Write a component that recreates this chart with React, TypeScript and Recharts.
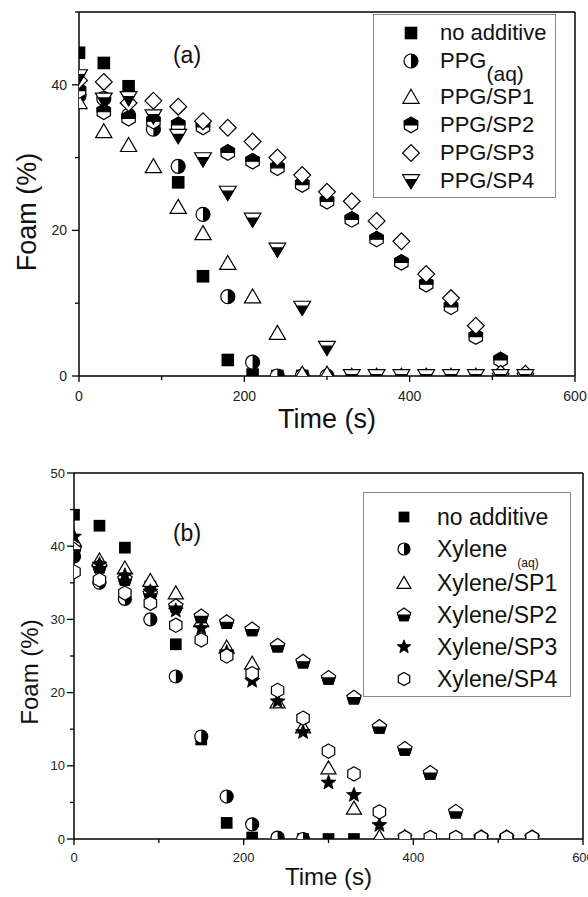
import React from 'react';
import { ScatterChart, Scatter, XAxis, YAxis, Legend, ReferenceLine } from 'recharts';

// sampling times (s), shared by every series
const times = [0, 30, 60, 90, 120, 150, 180, 210, 240, 270, 300, 330, 360, 390, 420, 450, 480, 510, 540];

// panel (a) – PPG
const noAdditiveA = [44.4, 43.0, 39.8, 34.6, 26.6, 13.7, 2.2, 0.2, 0, 0];
const ppgAq = [38.5, 38.1, 35.8, 33.9, 28.8, 22.2, 10.9, 1.9, 0, 0, 0];
const ppgSp1 = [37.6, 33.6, 31.7, 28.8, 23.2, 19.6, 15.5, 10.9, 5.9, 0.3, 0.3, 0, 0, 0, 0, 0, 0, 0, 0];
const ppgSp2 = [39.2, 36.3, 35.4, 35.0, 34.5, 34.2, 30.7, 29.5, 28.6, 26.3, 24.0, 21.5, 18.8, 15.6, 12.6, 9.5, 5.4, 2.2, 0];
const ppgSp3 = [40.6, 40.4, 37.5, 37.8, 37.0, 35.0, 34.1, 32.2, 30.0, 27.6, 25.3, 24.0, 21.3, 18.5, 14.0, 10.7, 6.9, 0.3, 0.3];
const ppgSp4 = [41.2, 38.0, 38.2, 35.7, 33.0, 29.8, 25.2, 21.5, 17.4, 9.4, 3.9, 0, 0, 0, 0, 0, 0, 0, 0];

// panel (b) – Xylene
const noAdditiveB = [44.3, 42.8, 39.8, 34.5, 26.6, 13.6, 2.2, 0.2, 0, 0, 0, 0];
const xyleneAq = [38.6, 35.0, 32.8, 30.0, 22.2, 14.0, 5.8, 2.0, 0.2, 0];
const xyleneSp1 = [40.8, 38.1, 37.0, 35.3, 33.6, 29.8, 26.2, 24.0, 18.7, 15.3, 9.7, 4.2, 0.3, 0.3];
const xyleneSp2 = [39.5, 37.2, 35.5, 33.5, 31.8, 30.4, 29.6, 28.6, 26.4, 24.2, 22.0, 19.3, 15.3, 12.3, 9.0, 3.7, 0.2, 0.2, 0.2];
const xyleneSp3 = [41.3, 37.5, 36.0, 33.8, 31.2, 28.8, 25.5, 21.6, 18.8, 14.6, 7.7, 6.0, 1.9, 0.2];
const xyleneSp4 = [36.5, 35.4, 33.6, 32.2, 29.2, 27.2, 25.0, 22.6, 20.3, 16.5, 12.0, 8.9, 3.7, 0.2, 0.2, 0.2, 0.2, 0.2, 0.2];

const xTicks = [0, 100, 200, 300, 400, 500, 600];
const yTicksA = [0, 10, 20, 30, 40, 50];
const yTicksB = [0, 5, 10, 15, 20, 25, 30, 35, 40, 45, 50];

const FONT = '"Liberation Sans", Arial, sans-serif';

const toPoints = (vals: number[]) => vals.map((v, i) => ({ t: times[i], foam: v }));

const Marker = ({ kind, cx, cy, s }: { kind: string; cx: number; cy: number; s: number }) => {
  const sw = 1.2;
  const k = '#000';
  const r = s / 2;
  if (cx == null || cy == null) return null;
  switch (kind) {
    case 'square': {
      const a = s * 0.9;
      return <rect x={cx - a / 2} y={cy - a / 2} width={a} height={a} fill={k} />;
    }
    case 'halfCircle':
      return (
        <g>
          <circle cx={cx} cy={cy} r={r} fill="#fff" stroke={k} strokeWidth={sw} />
          <path d={`M${cx},${cy - r} A${r},${r} 0 0 1 ${cx},${cy + r} Z`} fill={k} />
        </g>
      );
    case 'triUp': {
      const w = s * 0.58;
      const pts = `${cx},${cy - s * 0.55} ${cx + w},${cy + s * 0.45} ${cx - w},${cy + s * 0.45}`;
      return <polygon points={pts} fill="#fff" stroke={k} strokeWidth={sw} />;
    }
    case 'triDown': {
      const w = s * 0.6;
      const top = cy - s * 0.45;
      const bot = cy + s * 0.55;
      const cut = top + s * 0.35;
      const hw = w * (1 - 0.35);
      return (
        <g>
          <polygon points={`${cx - w},${top} ${cx + w},${top} ${cx},${bot}`} fill="#fff" stroke={k} strokeWidth={sw} />
          <polygon points={`${cx - hw},${cut} ${cx + hw},${cut} ${cx},${bot}`} fill={k} stroke={k} strokeWidth={sw} />
        </g>
      );
    }
    case 'diamond': {
      const d = s * 0.6;
      return (
        <polygon
          points={`${cx},${cy - d} ${cx + d},${cy} ${cx},${cy + d} ${cx - d},${cy}`}
          fill="#fff"
          stroke={k}
          strokeWidth={sw}
        />
      );
    }
    case 'hexHalf':
    case 'hexOpen': {
      const R = s * 0.55;
      const w = R * 0.866;
      const hex = `${cx},${cy - R} ${cx + w},${cy - R / 2} ${cx + w},${cy + R / 2} ${cx},${cy + R} ${cx - w},${cy + R / 2} ${cx - w},${cy - R / 2}`;
      return (
        <g>
          <polygon points={hex} fill="#fff" stroke={k} strokeWidth={sw} />
          {kind === 'hexHalf' && (
            <polygon
              points={`${cx - w},${cy} ${cx - w},${cy - R / 2} ${cx},${cy - R} ${cx + w},${cy - R / 2} ${cx + w},${cy}`}
              fill={k}
              stroke={k}
              strokeWidth={sw}
            />
          )}
        </g>
      );
    }
    case 'pentagon': {
      const R = s * 0.58;
      const p = [-90, -18, 54, 126, 198].map((a) => {
        const rad = (a * Math.PI) / 180;
        return `${cx + R * Math.cos(rad)},${cy + R * Math.sin(rad)}`;
      });
      const c = 0.851 * R;
      const lower = `${cx - c},${cy} ${cx + c},${cy} ${cx + 0.588 * R},${cy + 0.809 * R} ${cx - 0.588 * R},${cy + 0.809 * R}`;
      return (
        <g>
          <polygon points={p.join(' ')} fill="#fff" stroke={k} strokeWidth={sw} />
          <polygon points={lower} fill={k} stroke={k} strokeWidth={sw} />
        </g>
      );
    }
    case 'star': {
      const ro = s * 0.6;
      const ri = s * 0.26;
      const p = [];
      for (let i = 0; i < 10; i++) {
        const rr = i % 2 === 0 ? ro : ri;
        const a = ((-90 + i * 36) * Math.PI) / 180;
        p.push(`${cx + rr * Math.cos(a)},${cy + rr * Math.sin(a)}`);
      }
      return <polygon points={p.join(' ')} fill={k} stroke={k} strokeWidth={0.8} />;
    }
    default:
      return null;
  }
};

const seriesA = [
  { name: 'no additive', kind: 'square', data: noAdditiveA },
  { name: 'PPG', sub: '(aq)', kind: 'halfCircle', data: ppgAq },
  { name: 'PPG/SP1', kind: 'triUp', data: ppgSp1 },
  { name: 'PPG/SP2', kind: 'hexHalf', data: ppgSp2 },
  { name: 'PPG/SP3', kind: 'diamond', data: ppgSp3 },
  { name: 'PPG/SP4', kind: 'triDown', data: ppgSp4 },
];

const seriesB = [
  { name: 'no additive', kind: 'square', data: noAdditiveB },
  { name: 'Xylene', sub: '(aq)', kind: 'halfCircle', data: xyleneAq },
  { name: 'Xylene/SP1', kind: 'triUp', data: xyleneSp1 },
  { name: 'Xylene/SP2', kind: 'pentagon', data: xyleneSp2 },
  { name: 'Xylene/SP3', kind: 'star', data: xyleneSp3 },
  { name: 'Xylene/SP4', kind: 'hexOpen', data: xyleneSp4 },
];

const XTick = ({ x, y, payload, fontSize, labelGap }: any) => {
  const v = payload.value;
  const major = v % 200 === 0;
  return (
    <g>
      <line x1={x} y1={y} x2={x} y2={y + (major ? 6 : 4)} stroke="#000" strokeWidth={1.3} />
      {major && (
        <text x={x} y={y + labelGap} textAnchor="middle" fontSize={fontSize} fill="#222" fontFamily={FONT}>
          {v}
        </text>
      )}
    </g>
  );
};

const YTick = ({ x, y, payload, fontSize, every, maxLabel, gap }: any) => {
  const v = payload.value;
  const major = v % every === 0;
  const showLabel = major && v <= maxLabel;
  return (
    <g>
      <line x1={x} y1={y} x2={x - (major ? 7 : 4)} y2={y} stroke="#000" strokeWidth={1.3} />
      {showLabel && (
        <text x={x - gap} y={y} dy="0.35em" textAnchor="end" fontSize={fontSize} fill="#222" fontFamily={FONT}>
          {v}
        </text>
      )}
    </g>
  );
};

const LegendBox = ({ series, fontSize, subSize, subDrop, subGap, rowH, subRowH, padTop, symX, textX, symSize, width, height }: any) => (
  <div
    style={{
      width,
      height,
      boxSizing: 'border-box',
      border: '1.5px solid #8a8a8a',
      background: '#fff',
      paddingTop: padTop,
      fontFamily: FONT,
      color: '#111',
    }}
  >
    {series.map((s: any) => (
      <div key={s.name} style={{ position: 'relative', height: s.sub ? subRowH : rowH }}>
        <svg width={30} height={rowH} style={{ position: 'absolute', left: symX - 15, top: 0 }}>
          <Marker kind={s.kind} cx={15} cy={rowH / 2} s={symSize} />
        </svg>
        <div style={{ position: 'absolute', left: textX, top: 0, height: rowH, lineHeight: `${rowH}px`, fontSize, whiteSpace: 'nowrap' }}>
          {s.name}
          {s.sub && (
            <span style={{ fontSize: subSize, position: 'relative', top: subDrop, marginLeft: subGap }}>{s.sub}</span>
          )}
        </div>
      </div>
    ))}
  </div>
);

const Panel = ({ series, height, margin, yWidth, xHeight, yTicks, yEvery, yMaxLabel, yGap, tickFont, xLabelGap, titleFont, timeOffset, foamX, foamDy, tag, tagPos, legend, symSize }: any) => (
  <ScatterChart width={588} height={height} margin={margin}>
    <XAxis
      type="number"
      dataKey="t"
      domain={[0, 600]}
      allowDataOverflow
      ticks={xTicks}
      interval={0}
      height={xHeight}
      tickSize={0}
      tickMargin={0}
      tickLine={false}
      axisLine={{ stroke: '#000', strokeWidth: 1.5 }}
      tick={(p: any) => <XTick {...p} fontSize={tickFont} labelGap={xLabelGap} />}
      label={{
        value: 'Time (s)',
        position: 'insideBottom',
        offset: timeOffset,
        style: { fontSize: titleFont, fontFamily: FONT, fill: '#111' },
      }}
    />
    <YAxis
      type="number"
      dataKey="foam"
      domain={[0, 50]}
      allowDataOverflow
      ticks={yTicks}
      interval={0}
      width={yWidth}
      tickSize={0}
      tickMargin={0}
      tickLine={false}
      axisLine={{ stroke: '#000', strokeWidth: 1.5 }}
      tick={(p: any) => <YTick {...p} fontSize={tickFont} every={yEvery} maxLabel={yMaxLabel} gap={yGap} />}
      label={{
        content: ({ viewBox }: any) => {
          const cy = viewBox.y + viewBox.height / 2 + foamDy;
          return (
            <text
              transform={`translate(${foamX},${cy}) rotate(-90)`}
              textAnchor="middle"
              dominantBaseline="central"
              fontSize={titleFont}
              fontFamily={FONT}
              fill="#111"
            >
              Foam (%)
            </text>
          );
        },
      }}
    />
    <Legend
      layout="vertical"
      align="center"
      verticalAlign="middle"
      wrapperStyle={{ position: 'absolute', left: legend.left, top: legend.top, width: legend.width, height: legend.height }}
      content={() => <LegendBox series={series} {...legend} />}
    />
    {series.map((s: any) => (
      <Scatter
        key={s.name}
        name={s.name}
        data={toPoints(s.data)}
        isAnimationActive={false}
        shape={(p: any) => <Marker kind={s.kind} cx={p.cx} cy={p.cy} s={symSize} />}
      />
    ))}
    <ReferenceLine y={50} stroke="#000" strokeWidth={1.5} />
    <ReferenceLine x={600} stroke="#000" strokeWidth={1.5} />
    <text x={tagPos[0]} y={tagPos[1]} dy="0.35em" textAnchor="middle" fontSize={23} fontFamily={FONT} fill="#111">
      {tag}
    </text>
  </ScatterChart>
);

const App = () => (
  <div style={{ position: 'absolute', left: 0, top: 0, width: 588, height: 897, background: '#fff', overflow: 'hidden' }}>
    <div style={{ position: 'absolute', left: 0, top: 0 }}>
      <Panel
        series={seriesA}
        height={440}
        margin={{ top: 12, right: 13, bottom: 0, left: 0 }}
        yWidth={79}
        xHeight={64}
        yTicks={yTicksA}
        yEvery={20}
        yMaxLabel={40}
        yGap={12}
        tickFont={14}
        xLabelGap={25}
        titleFont={27}
        timeOffset={12}
        foamX={27}
        foamDy={18}
        tag="(a)"
        tagPos={[187, 55]}
        symSize={14}
        legend={{
          left: 373, top: 14, width: 183, height: 184,
          fontSize: 22, subSize: 21, subDrop: 13, subGap: 0,
          rowH: 28, subRowH: 36, padTop: 4, symX: 37, textX: 66, symSize: 14,
        }}
      />
    </div>
    <div style={{ position: 'absolute', left: 0, top: 440 }}>
      <Panel
        series={seriesB}
        height={457}
        margin={{ top: 33, right: 5, bottom: 0, left: 0 }}
        yWidth={74}
        xHeight={58}
        yTicks={yTicksB}
        yEvery={10}
        yMaxLabel={50}
        yGap={9}
        tickFont={13}
        xLabelGap={23}
        titleFont={24}
        timeOffset={12}
        foamX={29}
        foamDy={16}
        tag="(b)"
        tagPos={[187, 93]}
        symSize={13}
        legend={{
          left: 363, top: 52, width: 208, height: 205,
          fontSize: 23, subSize: 12, subDrop: 10, subGap: 10,
          rowH: 32, subRowH: 34, padTop: 8, symX: 40, textX: 73, symSize: 12,
        }}
      />
    </div>
  </div>
);

export default App;
